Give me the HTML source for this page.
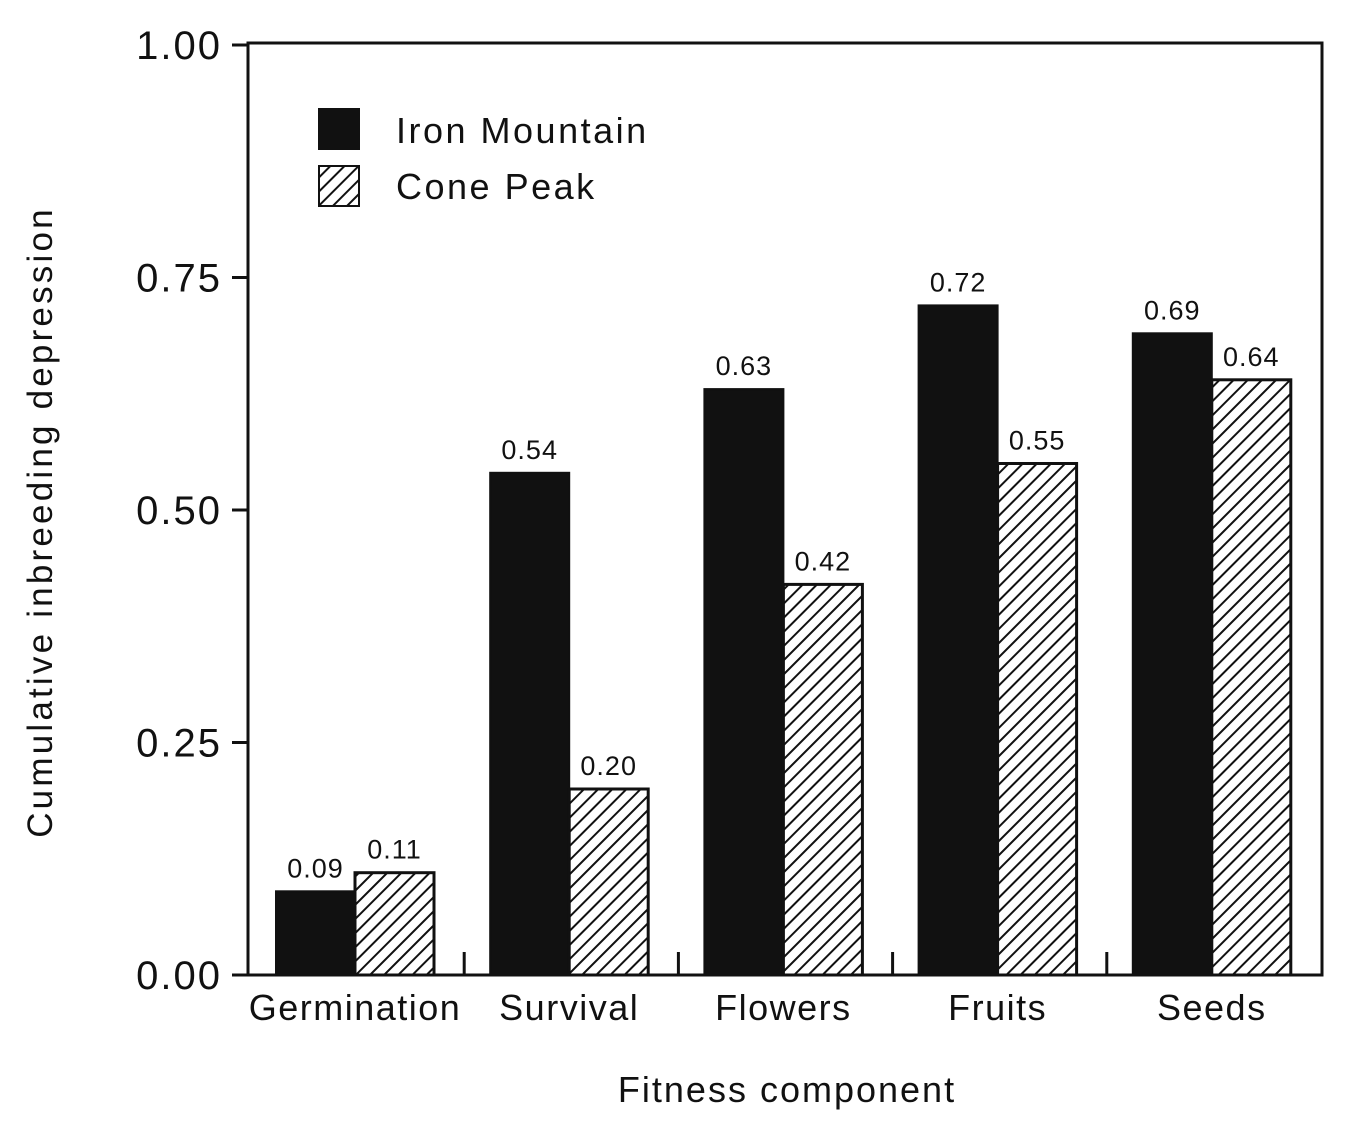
<!DOCTYPE html>
<html><head><meta charset="utf-8"><style>
html,body{margin:0;padding:0;background:#fff;}
svg text{font-family:"Liberation Sans","DejaVu Sans",sans-serif;fill:#111;}
</style></head><body>
<svg id="chart" width="1352" height="1126" viewBox="0 0 1352 1126" xmlns="http://www.w3.org/2000/svg">
<defs>
<pattern id="hatch" patternUnits="userSpaceOnUse" width="10" height="10" patternTransform="rotate(45)">
<rect width="10" height="10" fill="#fff"/>
<line x1="0" y1="0" x2="0" y2="10" stroke="#111" stroke-width="4"/>
</pattern>
</defs>
<g id="marks"></g>
<rect x="248" y="43" width="1074" height="932" fill="none" stroke="#111" stroke-width="3"/>
<g>
<rect x="318" y="108" width="42" height="42" fill="#111"/>
<text x="396" y="143" font-size="36" letter-spacing="2.5">Iron Mountain</text>
<rect x="319" y="166" width="40" height="40" fill="url(#hatch)" stroke="#111" stroke-width="2"/>
<text x="396" y="199" font-size="36" letter-spacing="2.5">Cone Peak</text>
</g>
<text transform="translate(52,522) rotate(-90)" text-anchor="middle" font-size="35" letter-spacing="3.2">Cumulative inbreeding depression</text>
<text x="787" y="1102" text-anchor="middle" font-size="36" letter-spacing="2">Fitness component</text>
</svg>
<script>
const categories = ["Germination","Survival","Flowers","Fruits","Seeds"];
const ironMountain = [0.09,0.54,0.63,0.72,0.69];
const conePeak = [0.11,0.20,0.42,0.55,0.64];
const ironLabels = ["0.09","0.54","0.63","0.72","0.69"];
const coneLabels = ["0.11","0.20","0.42","0.55","0.64"];
const yTicks = [0,0.25,0.5,0.75,1.0];
const yTickLabels = ["0.00","0.25","0.50","0.75","1.00"];

const NS = "http://www.w3.org/2000/svg";
const g = document.getElementById('marks');
function y(v){ return 975 - v*930; }
function groupX(i){ return 276 + i*214.2; }
const barW = 79;
function mk(tag, attrs, parent){ const e=document.createElementNS(NS,tag); for(const k in attrs) e.setAttribute(k,attrs[k]); (parent||g).appendChild(e); return e; }

yTicks.forEach((t,i)=>{
  const tk = mk('line',{x1:232,x2:248,y1:y(t),y2:y(t),stroke:'#111','stroke-width':3});
  
  
  const tx = mk('text',{x:222,y:y(t)+14,'text-anchor':'end','font-size':40,'letter-spacing':2});
  tx.textContent = yTickLabels[i];
  
  
});
for(let i=1;i<categories.length;i++){
  const sx = groupX(i) - 26;
  const s = mk('line',{x1:sx,x2:sx,y1:952,y2:975,stroke:'#111','stroke-width':3});
  
  
}
categories.forEach((c,i)=>{
  const x0 = groupX(i);
  const b1 = mk('rect',{x:x0,y:y(ironMountain[i]),width:barW,height:975-y(ironMountain[i]),fill:'#111',stroke:'#111','stroke-width':2});
  
  
  const b2 = mk('rect',{x:x0+barW,y:y(conePeak[i]),width:barW,height:975-y(conePeak[i]),fill:'url(#hatch)',stroke:'#111','stroke-width':3});
  
  
  const l1 = mk('text',{x:x0+barW/2,y:y(ironMountain[i])-14,'text-anchor':'middle','font-size':27,'letter-spacing':1});
  l1.textContent = ironLabels[i];
  
  
  const l2 = mk('text',{x:x0+barW*1.5,y:y(conePeak[i])-14,'text-anchor':'middle','font-size':27,'letter-spacing':1});
  l2.textContent = coneLabels[i];
  
  
  const cl = mk('text',{x:x0+barW,y:1020,'text-anchor':'middle','font-size':36,'letter-spacing':1.5});
  cl.textContent = c;
  
  
});
</script>
</body></html>
